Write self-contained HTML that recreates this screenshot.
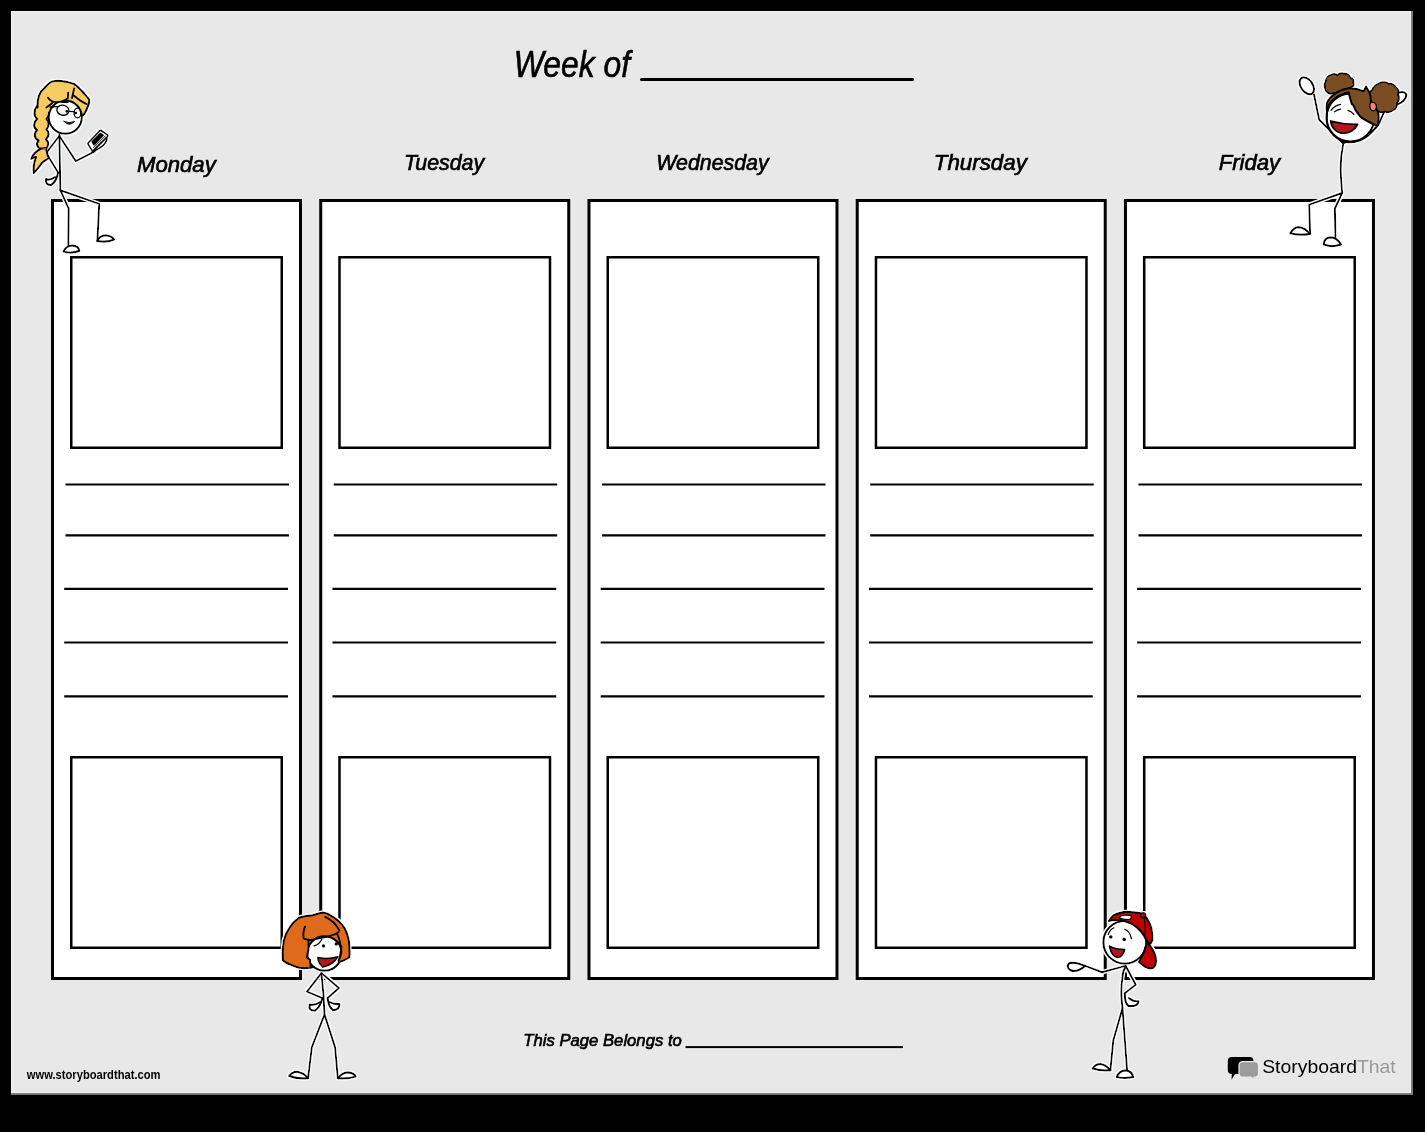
<!DOCTYPE html>
<html><head><meta charset="utf-8"><style>
html,body{margin:0;padding:0;background:#000;width:1425px;height:1132px;overflow:hidden}
svg{display:block;will-change:transform}
text{font-family:"Liberation Sans",sans-serif}
</style></head><body>
<svg width="1425" height="1132" viewBox="0 0 1425 1132">
<rect x="0" y="0" width="1425" height="1132" fill="#000"/>
<rect x="11" y="11" width="1402" height="1084" fill="#7a7a7a"/>
<rect x="11" y="11" width="1400" height="1082" fill="#f2f2f2"/>
<rect x="12" y="12" width="1398" height="1080" fill="#e8e8e8"/>
<g transform="translate(0 0)">
<rect x="52.5" y="200.5" width="248" height="778" fill="#fff" stroke="#000" stroke-width="3"/>
<rect x="71.25" y="257.25" width="210.5" height="190.5" fill="#fff" stroke="#000" stroke-width="2.5"/>
<rect x="71.25" y="757.25" width="210.5" height="190.5" fill="#fff" stroke="#000" stroke-width="2.5"/>
<path d="M65.5 484.5H289M65.5 535.3H289M64.2 588.8H288M64.2 642.5H288M64.2 696.3H288" stroke="#000" stroke-width="2.2"/>
</g>
<g transform="translate(268.24 0)">
<rect x="52.5" y="200.5" width="248" height="778" fill="#fff" stroke="#000" stroke-width="3"/>
<rect x="71.25" y="257.25" width="210.5" height="190.5" fill="#fff" stroke="#000" stroke-width="2.5"/>
<rect x="71.25" y="757.25" width="210.5" height="190.5" fill="#fff" stroke="#000" stroke-width="2.5"/>
<path d="M65.5 484.5H289M65.5 535.3H289M64.2 588.8H288M64.2 642.5H288M64.2 696.3H288" stroke="#000" stroke-width="2.2"/>
</g>
<g transform="translate(536.48 0)">
<rect x="52.5" y="200.5" width="248" height="778" fill="#fff" stroke="#000" stroke-width="3"/>
<rect x="71.25" y="257.25" width="210.5" height="190.5" fill="#fff" stroke="#000" stroke-width="2.5"/>
<rect x="71.25" y="757.25" width="210.5" height="190.5" fill="#fff" stroke="#000" stroke-width="2.5"/>
<path d="M65.5 484.5H289M65.5 535.3H289M64.2 588.8H288M64.2 642.5H288M64.2 696.3H288" stroke="#000" stroke-width="2.2"/>
</g>
<g transform="translate(804.72 0)">
<rect x="52.5" y="200.5" width="248" height="778" fill="#fff" stroke="#000" stroke-width="3"/>
<rect x="71.25" y="257.25" width="210.5" height="190.5" fill="#fff" stroke="#000" stroke-width="2.5"/>
<rect x="71.25" y="757.25" width="210.5" height="190.5" fill="#fff" stroke="#000" stroke-width="2.5"/>
<path d="M65.5 484.5H289M65.5 535.3H289M64.2 588.8H288M64.2 642.5H288M64.2 696.3H288" stroke="#000" stroke-width="2.2"/>
</g>
<g transform="translate(1072.96 0)">
<rect x="52.5" y="200.5" width="248" height="778" fill="#fff" stroke="#000" stroke-width="3"/>
<rect x="71.25" y="257.25" width="210.5" height="190.5" fill="#fff" stroke="#000" stroke-width="2.5"/>
<rect x="71.25" y="757.25" width="210.5" height="190.5" fill="#fff" stroke="#000" stroke-width="2.5"/>
<path d="M65.5 484.5H289M65.5 535.3H289M64.2 588.8H288M64.2 642.5H288M64.2 696.3H288" stroke="#000" stroke-width="2.2"/>
</g>
<g font-style="italic" fill="#000" stroke="#000">
<text id="t_week" x="513.8" textLength="116.2" lengthAdjust="spacingAndGlyphs" y="77" font-size="36" stroke-width="0.6">Week of</text>
<path d="M641.5 79.5H912.5" stroke-width="3" stroke-linecap="round" fill="none"/>
<text id="t_mon" x="176.4" textLength="78.6" lengthAdjust="spacingAndGlyphs" y="172" font-size="23.5" stroke-width="0.7" text-anchor="middle" transform="translate(0 172) scale(1 0.95) translate(0 -172)">Monday</text>
<text id="t_tue" x="444.0" textLength="80.2" lengthAdjust="spacingAndGlyphs" y="170" font-size="23.5" stroke-width="0.7" text-anchor="middle" transform="translate(0 170) scale(1 0.95) translate(0 -170)">Tuesday</text>
<text id="t_wed" x="712.5" textLength="112.3" lengthAdjust="spacingAndGlyphs" y="170" font-size="23.5" stroke-width="0.7" text-anchor="middle" transform="translate(0 170) scale(1 0.95) translate(0 -170)">Wednesday</text>
<text id="t_thu" x="980.3" textLength="93.0" lengthAdjust="spacingAndGlyphs" y="170" font-size="23.5" stroke-width="0.7" text-anchor="middle" transform="translate(0 170) scale(1 0.95) translate(0 -170)">Thursday</text>
<text id="t_fri" x="1249.4" textLength="61.4" lengthAdjust="spacingAndGlyphs" y="170" font-size="23.5" stroke-width="0.7" text-anchor="middle" transform="translate(0 170) scale(1 0.95) translate(0 -170)">Friday</text>
<text id="t_page" x="523.3" textLength="158.5" lengthAdjust="spacingAndGlyphs" y="1046" font-size="17" stroke-width="0.65">This Page Belongs to</text>
<rect x="685.5" y="1046.1" width="217.5" height="2" stroke="none"/>
</g>
<text id="t_www" x="26.8" textLength="133.7" lengthAdjust="spacingAndGlyphs" y="1079" font-size="13" font-weight="bold">www.storyboardthat.com</text>
<g>
<path d="M1231.8 1057H1249.5Q1253.5 1057 1253.5 1061V1070Q1253.5 1074 1249.5 1074H1235L1231.5 1079.7L1231.8 1074Q1227.8 1074 1227.8 1070V1061Q1227.8 1057 1231.8 1057Z" fill="#000"/>
<path d="M1243 1061.6H1254.5Q1258.5 1061.6 1258.5 1065.6V1073.2Q1258.5 1077.2 1254.5 1077.2H1254L1254.1 1079.7L1251 1077.2H1243Q1239 1077.2 1239 1073.2V1065.6Q1239 1061.6 1243 1061.6Z" fill="#9b9b9b" stroke="#e8e8e8" stroke-width="1.2"/>
</g>
<text id="t_sbt" x="1262.2" textLength="133.5" lengthAdjust="spacingAndGlyphs" y="1073.4" font-size="18.5"><tspan fill="#000">Storyboard</tspan><tspan fill="#9a9a9a">That</tspan></text>
<!--FIGURES-->
<defs>
<filter id="halo" x="-20%" y="-20%" width="140%" height="140%">
<feMorphology in="SourceAlpha" operator="dilate" radius="1.2" result="d"/>
<feFlood flood-color="#fff"/>
<feComposite in2="d" operator="in" result="w"/>
<feMerge><feMergeNode in="w"/><feMergeNode in="SourceGraphic"/></feMerge>
</filter>
</defs>
<!-- Figure 1: blonde girl with phone -->
<g filter="url(#halo)" stroke="#000" stroke-width="2" stroke-linejoin="round" stroke-linecap="round" fill="none">
<path d="M60.3 190.2L68.7 208.7L68.3 246.3M60.3 190.2L99.2 203.9L97.4 241"/>
<path d="M63.4 251.6Q66 245.5 72.7 245.6Q79 246 79.3 251Q71 254 63.4 251.6Z" fill="#fff"/>
<path d="M97 241Q100 235 106.3 235.2Q112 236 114.2 239.6Q106 243 97 241Z" fill="#fff"/>
<path d="M59.4 134L60.3 190.2"/>
<path d="M59.4 136L75.8 161.1L94.8 151.4"/>
<path d="M59.2 136L46.2 153L58.1 172.5"/>
<path d="M58.1 172.5Q57 181 51.5 184.9Q45 185.5 46 179Q50 180.5 55 177" fill="#fff"/>
<path d="M37.5 105C33.5 110 33.5 116 37 119C33 122.5 33 127.5 37 130C33.5 133.5 34 138.5 38.5 140.5C35.5 143.5 37 148 41.5 148.8L46.5 148.3C49 145 49 141.5 46 139.5C49.5 136 49.5 132 46.5 129.5C49.5 126 49.5 121.5 46.5 119C49.5 116 50 111 48.5 106Z" fill="#f6cb62"/>
<path d="M41.5 148.5C37 150 32 155 31.2 158.9C33 158 35 157 36 157C34 162 33 168 33.8 173C37 170 40 166 42 163C44 161 46 160 48.9 158C47 155 47 151 46 148Z" fill="#f6cb62"/>
<path d="M37.5 107.5C37 100 39 92 44.6 87.7C48 84 50 82 52.2 81.4C56 80.5 59 80.8 61.5 81C65 81.5 68 82 70 82.6L74.1 83.9C78 86.5 80 89 82.5 91.5C85 94.5 88 97.5 89.3 99.9C89.5 101.5 89.2 103 88.8 104.1C87.5 108 86 111 84.6 113.8L82.5 115.9L70 112L46.3 112L36 112Z" fill="#f6cb62" stroke="none"/>
<path d="M37.5 107.5C37 100 39 92 44.6 87.7C48 84 50 82 52.2 81.4C56 80.5 59 80.8 61.5 81C65 81.5 68 82 70 82.6L74.1 83.9C78 86.5 80 89 82.5 91.5C85 94.5 88 97.5 89.3 99.9C89.5 101.5 89.2 103 88.8 104.1C87.5 108 86 111 84.6 113.8L82.5 115.9"/>
<circle cx="65.3" cy="117.2" r="16.6" fill="#fff"/>
<path d="M46 90L76 86L78.5 101.8C77 101 76 100.5 75 99.8C74 98.5 73 97.8 72 98.2L69.9 99L67.8 98.2C65 100.5 63 101.6 61.5 101.8C58 102.2 55.5 102.3 53 102.4C51 104 49 106 46.3 107.5L44 100Z" fill="#f6cb62" stroke="none"/>
<path d="M48 97.8C50 100.5 53 102 56 102.1C60 102.2 64 101 67.8 98.2L68.2 92.7M72 98.2L74.1 88.5M74.1 95.7C78 99 82 102 86.7 104.1M61.5 102L67.8 102M53 102.4C51 104 49 106 46.3 107.5" stroke-width="1.8"/>
<path d="M40 147.5L46 148.5" stroke="#c0504d" stroke-width="1.2"/>
<g stroke-width="1.3">
<ellipse cx="62.9" cy="110.2" rx="6.1" ry="5" transform="rotate(12 62.9 110.2)"/>
<ellipse cx="77.5" cy="113" rx="3.4" ry="4.9"/>
<path d="M69 111.3L74.1 111.7M57.3 106.6L50.1 107"/>
</g>
<circle cx="66.9" cy="111.3" r="1.4" fill="#000" stroke="none"/>
<circle cx="75.8" cy="113" r="1.2" fill="#000" stroke="none"/>
<path d="M64 121.4Q69 127 74.5 121.5Q69 124 64 121.4Z" fill="#8b1a1a" stroke-width="1"/>
<path d="M92.4 151.6C98 149.5 102.5 147 105 143.5C106.5 141.5 107.3 140 106.9 138.2" fill="#fff" stroke-width="1.6"/>
<path d="M99.8 130.6Q100.4 130 101.2 130.5L107.3 134.6Q108.3 135.5 107.6 136.6L93.2 150.6Q92.4 151.2 91.7 150.3L88 144.2Q87.6 143.4 88.2 142.7Z" fill="#fff" stroke-width="1.6"/>
<path d="M94.6 149.3L106.3 137.4M93.6 147.6L105.2 136" stroke-width="0.9"/>
<path d="M91.3 141.5L99.6 133.2Q100.3 132.6 101.2 133.1L104.1 135.2L94.7 145.2Q94 145.9 93.3 145.4Z" fill="#000" stroke="none"/>
</g>
<!-- Figure 2: brown hair girl, arms up -->
<g filter="url(#halo)" stroke="#000" stroke-width="2" stroke-linejoin="round" stroke-linecap="round" fill="none">
<path d="M1343.2 143.9C1341.5 152 1340.5 160 1340.7 169.2C1340.8 178 1341.5 186 1342.2 193"/>
<path d="M1342.2 193L1309.2 204.6L1310.1 233.8M1342.2 193L1334.9 208.5L1335.4 238.2"/>
<path d="M1290.2 233.3Q1294 227 1298.5 227Q1305 227.5 1310.1 234Q1300 236 1290.2 233.3Z" fill="#fff"/>
<path d="M1323.7 244.5Q1324 237.5 1330.5 237.2Q1337 237.5 1341.2 244.5Q1332 248 1323.7 244.5Z" fill="#fff"/>
<path d="M1342.6 143L1319.2 119.8L1313.9 94.2"/>
<ellipse cx="1306.8" cy="85.8" rx="9.5" ry="6" transform="rotate(55 1306.8 85.8)" fill="#fff"/>
<path d="M1343 143.2C1352 141 1362 137 1368 133.5C1374 130 1377 127 1378.3 125L1383.6 113.1L1390 102"/>
<ellipse cx="1397.8" cy="98.6" rx="9.5" ry="5.2" transform="rotate(-32 1397.8 98.6)" fill="#fff"/>
<path d="M1366 95L1371.9 90.1C1374 86 1376 84.5 1378.3 83.8C1380 82.5 1382 82 1383.6 82.2C1386 82 1388 83 1388.9 83.8C1392 83 1395 85 1396 87.5C1398.5 89 1399 92 1398 94.5C1399.5 97 1399 101 1397 103C1397.5 106 1396 109 1393.5 110C1391 112.5 1387 112.8 1384.5 111.5C1382 113 1378.5 112.5 1377 110.3L1368 105Z" fill="#7a4e22" stroke-width="1.7"/>
<path d="M1330.6 93.8C1327 93 1325 90.5 1324.8 87.5C1324 85 1324.5 83 1325.8 81.1C1326 78 1328.5 75.5 1331.1 74.8C1333.5 73.5 1336 74 1337.5 75.3C1339.5 73 1342 72.8 1344.4 73.7C1347 73.5 1349.5 75.5 1350.7 77.9C1353 78.5 1354 80.5 1353.4 82.7C1354.5 84.5 1353.5 86.5 1351.8 87L1340 92Z" fill="#7a4e22" stroke-width="1.7"/>
<circle cx="1350.5" cy="117.6" r="24" fill="#fff"/>
<path d="M1326.9 102.9C1330 96 1338 90 1347.6 88.5C1353 87.8 1358.5 89 1363.5 91.2L1366.1 86.4L1369.8 93.3C1370.5 96 1371 99 1370.9 101.8C1373.5 104 1376 107 1377.2 110.3C1378.5 113 1379 115.5 1378.8 117.7C1378.8 121 1378.2 124 1377.2 126.2C1375.5 125.5 1374.5 124.8 1373 124C1368 121.5 1363.5 119 1360.3 116.6C1357 113 1354.5 109 1353.2 105L1351.8 103.9C1350.5 99.5 1349.5 95.5 1348.6 92.3C1346 92.8 1344 93.5 1342.3 94.4C1340 95.5 1338 96.5 1335.9 97.6C1333.5 99.5 1331.5 101.8 1329.5 104.4C1328.5 107 1327.5 109.5 1326.9 112.4C1326.5 109 1326.5 106 1326.9 102.9Z" fill="#7a4e22"/>
<path d="M1326.9 112.4C1327.5 109.5 1328.5 107 1329.5 104.4C1331.5 101.8 1333.5 99.5 1335.9 97.6C1338 96.5 1340 95.5 1342.3 94.4C1344 93.5 1346 92.8 1348.6 92.3" stroke-width="1.8"/>
<path d="M1376 127C1372 133 1366 138 1360 140.5C1354 142.5 1348 142.8 1343 141.6C1336 138.5 1330 133 1327.5 126C1326.5 122 1326.3 117 1326.9 112.4" stroke-width="2"/>
<path d="M1370.5 102.5C1372.5 101.5 1375.5 102.5 1376.2 105C1376.8 107.5 1376 110.5 1373.5 110.8C1371.5 111 1369.8 109 1369.8 106.5C1369.8 105 1370 103.5 1370.5 102.5Z" fill="#f08080" stroke-width="1.2"/>
<path d="M1331.1 110.3C1333.5 107 1337 105 1340.7 104.4M1334.3 111.9C1336 110.5 1338.5 109.5 1340.7 109.2M1348.1 110.3C1350.5 111 1352.5 112.5 1353.9 114.5" stroke-width="1.2"/>
<path d="M1330.6 120.9C1340 123.5 1350 124.5 1357.6 124.3C1355 130 1349 133.5 1343 133.3C1336 133 1331 127 1330.6 120.7Z" fill="#b5121b" stroke-width="1.6"/>
</g>
<!-- Figure 3: red hair girl -->
<g filter="url(#halo)" stroke="#000" stroke-width="2" stroke-linejoin="round" stroke-linecap="round" fill="none">
<path d="M321.4 973.2C323 987 324 1000 324.5 1014.5"/>
<path d="M324.5 1014.5L311.8 1047.4L308.1 1078.2M324.5 1014.5L335.1 1047.4L337.8 1078.2"/>
<path d="M289 1076Q292 1071.5 297.5 1071.8Q304 1073 308.1 1078.2Q298 1079.5 289 1076Z" fill="#fff"/>
<path d="M337.8 1078.2Q342 1072.5 347.9 1072.3Q354 1073 355.8 1076.6Q346 1079.5 337.8 1078.2Z" fill="#fff"/>
<path d="M321.4 973.2L307 991.7L322.4 998.1"/>
<path d="M322.4 998.1Q321 1006 315 1010.8Q308 1011 309.7 1004.6Q315 1005.5 320 1002" fill="#fff"/>
<path d="M322 973.5L338.9 988L327.7 998.1"/>
<path d="M327.7 998.1Q328 1006 333 1010.3Q340 1010 339.4 1003.9Q334 1004.5 330 1002" fill="#fff"/>
<path d="M322.7 912.6C319 913 315 914.5 312.4 915.3C307 915.8 302 916.5 298.8 917.7C294 921 291 925 289.3 928C286.5 932 284.5 937 283.7 940.8C283 945 282.6 949 282.6 952.7C282.6 956 282.8 958.5 283 960.6C285 962 287 963.3 289.3 964.2C292 965.5 296 967 298.8 967.8C303 968.3 307 968.2 310.8 967.8L338.6 962.2C340 961.8 342 961.2 343.4 960.6C345.5 959.7 347.5 958.7 349.3 957.5C349.6 956 349.7 954.5 349.7 952.7C349.6 948 349.4 944.5 348.9 940.8C348 936 346.7 932 345 928.8C343 925.5 341 923 338.6 920.9C335 918 331 915.5 327.5 913.7C325.8 913 324.2 912.7 322.7 912.6Z" fill="#df6a1c"/>
<circle cx="324.5" cy="953.5" r="17.3" fill="#fff"/>
<path d="M310.8 967.8C310.3 965 310.2 962 310 959.8L306.8 957.5C307.5 954 308 951.5 308.4 949.5C308.5 946 308.5 943 308.4 940.8L303.6 938.4L300 925L322 918L342 925L338.6 932C339.5 935 340.5 940 341 949.5C340.8 953 340 957 338.6 960.6L338.6 962.2L347 956L346 936L336 926L310 921L290 935L285 960L300 966Z" fill="#df6a1c" stroke="none"/>
<path d="M310.8 967.8C310.3 965 310.2 962 310 959.8L306.8 957.5C307.5 954 308 951.5 308.4 949.5C308.5 946 308.5 943 308.4 940.8M303.6 938.4C306 939.5 308.5 940 310.8 940C313.5 939.8 316 939 318.7 938.4C321.5 937.8 324 937.3 326.7 936.8C329.5 936 332 935.2 334.6 934.4C336 933.7 337.5 932.8 338.6 932M338.6 962.2C339 961.5 338.8 961 338.6 960.6C340 957 340.8 953 341 949.5C340.5 943 339 937.5 337 933.6M305.2 926.5C303.5 930 303 934.5 303.6 938.4M325.1 916.9C331 919.5 336 924 339.4 930.4" stroke-width="1.8"/>
<path d="M341.5 946C341.8 950 341.5 954 340 958" stroke-width="1.6"/>
<circle cx="323.5" cy="945.9" r="1.6" fill="#000" stroke="none"/>
<circle cx="336.2" cy="943.9" r="1.6" fill="#000" stroke="none"/>
<path d="M314 945.9C317 945 320 943 321.9 939.2" stroke-width="1.2"/>
<path d="M317.9 957.5C325 959 332 958.5 337.8 956.7C335 962 329 966 322.7 967C319.5 964 318 961 317.9 957.5Z" fill="#b5121b" stroke-width="1.5"/>
</g>
<!-- Figure 4: boy with red cap -->
<g filter="url(#halo)" stroke="#000" stroke-width="2" stroke-linejoin="round" stroke-linecap="round" fill="none">
<path d="M1125.9 966.3C1123.5 970 1122.5 974 1122.5 977.2C1121.5 983 1121.2 989 1121.3 994.4C1121.5 999 1122 1004 1122.5 1008.2"/>
<path d="M1122.5 1008.2L1113.3 1040.4L1110.4 1070.2M1122.5 1008.2L1127.1 1070.2"/>
<path d="M1092.6 1068.5Q1095 1063.8 1100.7 1063.9Q1106 1064.5 1110.4 1070.2Q1101 1071.5 1092.6 1068.5Z" fill="#fff"/>
<path d="M1116.7 1077.1Q1119 1070.5 1125.9 1070.2Q1132 1071 1133.4 1077.1Q1125 1079 1116.7 1077.1Z" fill="#fff"/>
<path d="M1126 966.5L1135.7 984.7L1124.8 993.3"/>
<path d="M1124.8 993.3Q1124.5 1003 1128.2 1005.9Q1138 1007 1138.6 1001.3Q1133 1001.5 1129 998" fill="#fff"/>
<path d="M1125.5 965.9L1102 972.2L1085.2 965.9"/>
<path d="M1085.2 965.9C1080 963.5 1074 962 1070 963C1067 964 1067 968 1070 970C1074 972 1080 970.5 1085.2 966" fill="#fff"/>
<circle cx="1124.8" cy="942.2" r="21.5" fill="#fff"/>
<path d="M1108.7 921C1110.5 918.5 1112 916.5 1113.7 915.1C1118 912.8 1122.5 911.8 1127.2 911.7C1132 911.8 1136 912.2 1139.8 913C1142 914.2 1144.5 915.8 1146.5 917.6C1148.8 921 1150.5 924.5 1151.5 928.5C1152.2 932.5 1152.6 936.5 1152.4 940.3L1150.7 943.6L1147.3 942C1145 936.5 1143 933.5 1140.6 931C1137.5 927.5 1134.5 925.5 1131.4 923.5C1127 921.5 1123 920.5 1118.8 920.1C1115 920 1111.5 920.3 1108.7 921Z" fill="#c00000"/>
<path d="M1147.3 942C1151.5 947 1154.5 952 1155.7 957C1156.5 961.5 1156 965.5 1153.5 967.8C1150 969.5 1146 967.8 1142.5 965C1141 964 1139.8 963 1138.9 962.1C1142.5 956 1145.5 949 1147.3 942Z" fill="#c00000"/>
<path d="M1119 917.5C1121 915 1127 914.5 1131 915.8C1131.8 917 1131 918.8 1129.5 919.5C1126 919.6 1122 919.5 1119 917.5Z" fill="#fff" stroke-width="1.2"/>
<path d="M1144.3 918C1145.3 924 1145.6 930 1144.8 936" stroke-width="1.1"/>
<circle cx="1143.1" cy="915.2" r="2.6" fill="#c00000" stroke-width="1.4"/>
<circle cx="1110.8" cy="936.9" r="1.7" fill="#000" stroke="none"/>
<circle cx="1124.2" cy="939.4" r="1.7" fill="#000" stroke="none"/>
<path d="M1108.3 934.5C1109.5 931 1111.5 928.8 1114 927.8M1124.7 929.3C1128 930.5 1130.5 934 1131.4 938.6" stroke-width="1.2"/>
<path d="M1109.5 946.1C1114 948.5 1119 949.5 1124.7 949.5C1123.5 954 1121 957 1117.9 957.5C1113.5 957 1110.5 952 1109.5 946.1Z" fill="#b5121b" stroke-width="1.5"/>
</g>

</svg>
</body></html>
